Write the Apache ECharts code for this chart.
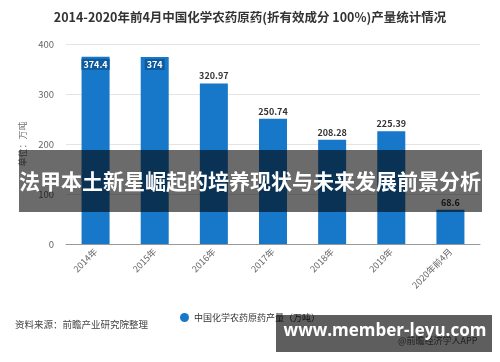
<!DOCTYPE html>
<html><head><meta charset="utf-8">
<script src="https://cdn.jsdelivr.net/npm/echarts@6/dist/echarts.min.js"></script>
<style>html,body{margin:0;padding:0;background:#fff}#c{width:500px;height:362px}</style>
</head><body><div id="c"></div>
<script>
const categories = ['2014年','2015年','2016年','2017年','2018年','2019年','2020年前4月'];
const values = [374.4, 374, 320.97, 250.74, 208.28, 225.39, 68.6];
const yTicks = [0, 100, 200, 300, 400];
const titleText = '2014-2020年前4月中国化学农药原药(折有效成分 100%)产量统计情况';
const seriesName = '中国化学农药原药产量（万吨）';
const sourceText = '资料来源：前瞻产业研究院整理';
const bannerText = '法甲本土新星崛起的培养现状与未来发展前景分析';
const siteText = 'www.member-leyu.com';
const appText = '@前瞻经济学人APP';
const font = '"Noto Sans CJK SC", "Noto Sans", sans-serif';

const chart = echarts.init(document.getElementById('c'));
const data = values.map((v, i) => {
  const item = { value: v };
  if (i < 2) {
    item.label = { position: 'insideTop', distance: 2, color: '#fff', backgroundColor: '#0e5a9e', padding: [1, 2], formatter: String(v) };
  }
  return item;
});
chart.setOption({
  animation: false,
  textStyle: { fontFamily: font },
  title: {
    text: titleText, left: 'center', top: 6,
    textStyle: { fontSize: 12.5, fontWeight: 'bold', color: '#333', fontFamily: font }
  },
  grid: { left: 66, right: 20, top: 44, bottom: 118, containLabel: false },
  legend: {
    data: [seriesName], left: 175, top: 308, icon: 'circle', itemWidth: 9, itemHeight: 9, itemGap: 4,
    textStyle: { fontSize: 9, color: '#333', fontFamily: font }
  },
  xAxis: {
    type: 'category', data: categories,
    axisLine: { lineStyle: { color: '#999' } },
    axisTick: { alignWithLabel: true, lineStyle: { color: '#999' } },
    axisLabel: { rotate: 45, fontSize: 9, color: '#666', margin: 6, interval: 0 }
  },
  yAxis: {
    type: 'value', min: yTicks[0], max: yTicks[yTicks.length - 1], interval: 100,
    name: '单位：万吨', nameLocation: 'middle', nameGap: 36, nameRotate: 90,
    nameTextStyle: { fontSize: 9, color: '#777' },
    axisLine: { show: false }, axisTick: { show: false },
    axisLabel: { fontSize: 9.5, color: '#666', margin: 12 },
    splitLine: { lineStyle: { color: '#e4e4e4' } }
  },
  series: [{
    name: seriesName, type: 'bar', data: data, barWidth: 28,
    itemStyle: { color: '#1777c8' },
    label: { show: true, position: 'top', distance: 3, fontSize: 9, color: '#333', fontWeight: 'bold' }
  }],
  graphic: [
    { type: 'text', left: 15, top: 320, style: { text: sourceText, fontSize: 9.5, fill: '#444', fontFamily: font } },
    { type: 'text', left: 398, top: 336, style: { text: appText, fontSize: 9, fill: '#555', fontFamily: font } },
    { type: 'rect', shape: { x: 19, y: 150, width: 463, height: 62 }, style: { fill: 'rgba(0,0,0,0.58)' }, z: 100 },
    { type: 'text', x: 250, y: 181, z: 101, style: { text: bannerText, fontSize: 21, fontWeight: 'bold', fill: '#fff', align: 'center', verticalAlign: 'middle', fontFamily: font } },
    { type: 'rect', shape: { x: 276, y: 315, width: 216, height: 37 }, style: { fill: 'rgba(0,0,0,0.63)' }, z: 100 },
    { type: 'text', x: 385, y: 331, z: 101, style: { text: siteText, fontSize: 17, fontWeight: 'bold', fill: '#fff', align: 'center', verticalAlign: 'middle', fontFamily: '"Open Sans", "DejaVu Sans", sans-serif' } }
  ]
});
</script></body></html>
